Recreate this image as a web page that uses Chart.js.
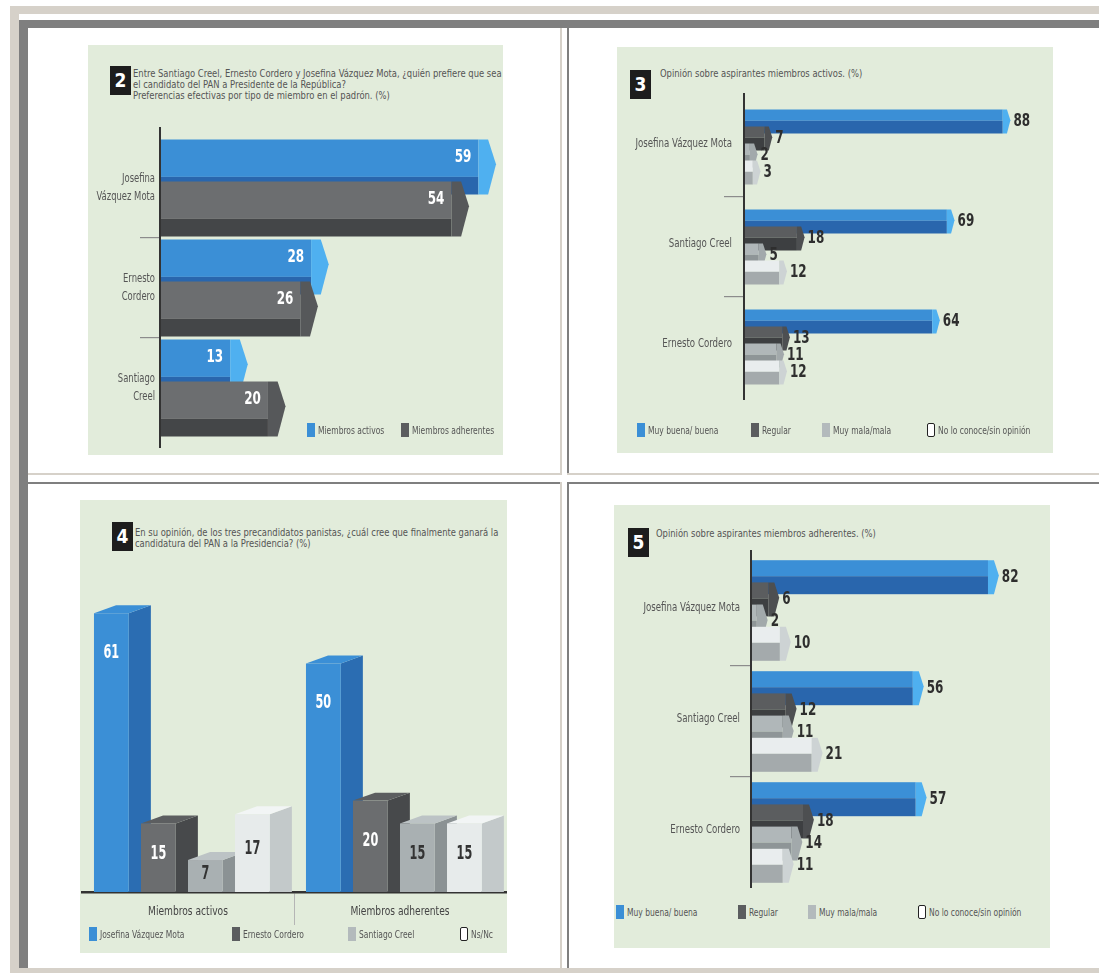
<!DOCTYPE html>
<html>
<head>
<meta charset="utf-8">
<script src="https://cdn.jsdelivr.net/npm/chart.js@4.4.1/dist/chart.umd.min.js"></script>
<style>
  body { margin: 0; width: 1099px; height: 973px; position: relative; overflow: hidden; background: #fff;
         font-family: 'DejaVu Sans Condensed', 'Liberation Sans Narrow', sans-serif; }
  .box { position: absolute; }
  .panel { position: absolute; background: #e2ecdb; }
  .num { position: absolute; width: 21px; height: 29px; line-height: 29px; background: #1d1d1d; color: #fff;
         font-weight: bold; font-size: 19px; text-align: center; }
  .title { position: absolute; font-size: 10.5px; line-height: 11px; color: #555; white-space: nowrap;
           transform: scaleX(0.89); transform-origin: 0 0; }
  .leg { position: absolute; font-size: 10.5px; color: #555; white-space: nowrap; display: flex; align-items: center; height: 14px; }
  .leg span.t { display: inline-block; transform: scaleX(0.8); transform-origin: 0 50%; }
  .sq { display: inline-block; width: 8px; height: 14px; margin-right: 3px; box-sizing: border-box; }
  canvas { position: absolute; }
</style>
</head>
<body>
<!-- page frame -->
<div class="box" style="left:10px;top:6px;width:1089px;height:967px;background:#d6d1c9"></div>
<div class="box" style="left:19px;top:14px;width:1080px;height:954px;background:#fff"></div>
<div class="box" style="left:19px;top:20px;width:1080px;height:8px;background:#7f7f7f"></div>
<div class="box" style="left:19px;top:20px;width:9px;height:948px;background:#7f7f7f"></div>
<div class="box" style="left:560px;top:28px;width:2px;height:447px;background:#d6d1c9"></div>
<div class="box" style="left:28px;top:473px;width:534px;height:2px;background:#d6d1c9"></div>
<div class="box" style="left:567px;top:28px;width:2px;height:447px;background:#7f7f7f"></div>
<div class="box" style="left:567px;top:473px;width:532px;height:2px;background:#d6d1c9"></div>
<div class="box" style="left:28px;top:482px;width:534px;height:2px;background:#7f7f7f"></div>
<div class="box" style="left:560px;top:482px;width:2px;height:486px;background:#d6d1c9"></div>
<div class="box" style="left:567px;top:482px;width:532px;height:2px;background:#7f7f7f"></div>
<div class="box" style="left:567px;top:482px;width:2px;height:486px;background:#7f7f7f"></div>

<!-- panels -->
<div class="panel" style="left:88px;top:45px;width:415px;height:410px"></div>
<div class="panel" style="left:617px;top:47px;width:436px;height:406px"></div>
<div class="panel" style="left:80px;top:500px;width:427px;height:453px"></div>
<div class="panel" style="left:614px;top:505px;width:436px;height:443px"></div>

<div class="num" style="left:110px;top:66px">2</div>
<div class="title" style="left:133px;top:68px">Entre Santiago Creel, Ernesto Cordero y Josefina Vázquez Mota, ¿quién prefiere que sea<br>el candidato del PAN a Presidente de la República?<br>Preferencias efectivas por tipo de miembro en el padrón. (%)</div>

<div class="num" style="left:630px;top:70px">3</div>
<div class="title" style="left:660px;top:68px">Opinión sobre aspirantes miembros activos. (%)</div>

<div class="num" style="left:112px;top:522px">4</div>
<div class="title" style="left:135px;top:527px">En su opinión, de los tres precandidatos panistas, ¿cuál cree que finalmente ganará la<br>candidatura del PAN a la Presidencia? (%)</div>

<div class="num" style="left:628px;top:528px">5</div>
<div class="title" style="left:656px;top:528px">Opinión sobre aspirantes miembros adherentes. (%)</div>

<canvas id="c2" width="415" height="330" style="left:88px;top:125px"></canvas>
<canvas id="c3" width="436" height="330" style="left:617px;top:90px"></canvas>
<canvas id="c4" width="427" height="360" style="left:80px;top:570px"></canvas>
<canvas id="c5" width="436" height="352" style="left:614px;top:548px"></canvas>

<script>
// chart 2: preferencia por tipo de miembro
const p2Cats = [['Josefina', 'Vázquez Mota'], ['Ernesto', 'Cordero'], ['Santiago', 'Creel']];
const p2Series = ['Miembros activos', 'Miembros adherentes'];
const p2Activos = [59, 28, 13];
const p2Adherentes = [54, 26, 20];

// charts 3 and 5: opinion sobre aspirantes
const opCats = ['Josefina Vázquez Mota', 'Santiago Creel', 'Ernesto Cordero'];
const opSeries = ['Muy buena/ buena', 'Regular', 'Muy mala/mala', 'No lo conoce/sin opinión'];
const p3Buena = [88, 69, 64];
const p3Regular = [7, 18, 13];
const p3Mala = [2, 5, 11];
const p3NoConoce = [3, 12, 12];
const p5Buena = [82, 56, 57];
const p5Regular = [6, 12, 18];
const p5Mala = [2, 11, 14];
const p5NoConoce = [10, 21, 11];

// chart 4: quien ganara la candidatura
const p4Cats = ['Miembros activos', 'Miembros adherentes'];
const p4Series = ['Josefina Vázquez Mota', 'Ernesto Cordero', 'Santiago Creel', 'Ns/Nc'];
const p4Josefina = [61, 50];
const p4Ernesto = [15, 20];
const p4Santiago = [7, 15];
const p4NsNc = [17, 15];

const FONT = "'DejaVu Sans Condensed', 'Liberation Sans Narrow', sans-serif";
Chart.defaults.font.family = FONT;
Chart.defaults.animation = false;

// colour sets for the fake 3d faces
const blue = { top: '#3b8fd6', bottom: '#2966ad', cap: '#4fb0f0', front: '#3b8fd6', side: '#2b6db2', text: '#fff' };
const grayDark = { top: '#5b5d5f', bottom: '#3d3f41', cap: '#4d4f51' };
const grayP2 = { top: '#6c6e70', bottom: '#444648', cap: '#56585a' };
const grayLight = { top: '#b0b7b9', bottom: '#8e9597', cap: '#a2a9ab' };
const whiteish = { top: '#e9edee', bottom: '#a4aaac', cap: '#cdd3d4' };
const p4Faces = [
  blue,
  { front: '#6b6d6f', side: '#47494b', top: '#5c5e60', text: '#fff' },
  { front: '#a9b0b2', side: '#8b9294', top: '#bcc3c5', text: '#333' },
  { front: '#e7ebeb', side: '#c3c9ca', top: '#f2f5f5', text: '#333' }
];
const legendColours = ['#3b8fd6', '#5b5d5f', '#b3babc', '#fff'];

function poly(ctx, pts, fill) {
  ctx.beginPath();
  ctx.moveTo(pts[0][0], pts[0][1]);
  for (let k = 1; k < pts.length; k++) ctx.lineTo(pts[k][0], pts[k][1]);
  ctx.closePath();
  ctx.fillStyle = fill;
  ctx.fill();
}

// narrow text: the original uses a condensed face
function narrowText(ctx, txt, x, y, align, sx) {
  ctx.save();
  ctx.translate(x, y);
  ctx.scale(sx, 1);
  ctx.textAlign = align;
  ctx.fillText(txt, 0, 0);
  ctx.restore();
}

// horizontal bars drawn as extruded slabs, using the bar elements' geometry
const hBars3d = {
  id: 'hBars3d',
  afterDatasetsDraw(chart, args, o) {
    const ctx = chart.ctx;
    const labels = [];
    ctx.save();
    chart.data.datasets.forEach((ds, i) => {
      chart.getDatasetMeta(i).data.forEach((bar, j) => {
        const h = o.depth, top = bar.y - h / 2, x0 = bar.base, x1 = bar.x;
        const cw = h * 0.32, sp = h * o.split, c = ds.faces;
        ctx.fillStyle = c.top;
        ctx.fillRect(x0, top, x1 - x0, sp);
        ctx.fillStyle = c.bottom;
        ctx.fillRect(x0, top + sp, x1 - x0, h - sp);
        poly(ctx, [[x1, top], [x1 + cw * 0.55, top], [x1 + cw, top + h * 0.45], [x1 + cw * 0.55, top + h], [x1, top + h]], c.cap);
        if (o.inside) labels.push([ds.data[j], x1 - 7, top + h * 0.32, '#fff', 'right']);
        else labels.push([ds.data[j], x1 + cw + 3, top + h * 0.5, '#2e2e2e', 'left']);
      });
    });
    ctx.font = 'bold 18px ' + FONT;
    ctx.textBaseline = 'middle';
    labels.forEach(l => {
      ctx.fillStyle = l[3];
      narrowText(ctx, l[0], l[1], l[2], l[4], 0.74);
    });

    // category names
    const ys = chart.scales.y, a = chart.chartArea;
    ctx.font = o.catSize + 'px ' + FONT;
    ctx.fillStyle = '#555';
    chart.data.labels.forEach((lab, i) => {
      const lines = Array.isArray(lab) ? lab : [lab];
      const cy = ys.getPixelForValue(i) + o.catShift;
      lines.forEach((t, k) => {
        narrowText(ctx, t, a.left - o.catGap, cy + (k - (lines.length - 1) / 2) * o.catLine, 'right', o.catScale);
      });
    });

    ctx.strokeStyle = '#333';
    ctx.lineWidth = 2;
    ctx.beginPath();
    ctx.moveTo(a.left, a.top - o.up);
    ctx.lineTo(a.left, a.bottom + o.down);
    ctx.stroke();
    ctx.restore();
  }
};

// vertical bars drawn as boxes (front, side, top)
const vBars3d = {
  id: 'vBars3d',
  afterDatasetsDraw(chart) {
    const ctx = chart.ctx;
    const labels = [];
    ctx.save();
    chart.data.datasets.forEach((ds, i) => {
      chart.getDatasetMeta(i).data.forEach((bar, j) => {
        const w = bar.width, fx = bar.x - w / 2, fw = w * 0.74, sw = w * 0.47, d = sw * 0.36;
        const top = bar.y, base = bar.base, c = ds.faces;
        poly(ctx, [[fx + fw, top], [fx + fw + sw, top - d], [fx + fw + sw, base], [fx + fw, base]], c.side);
        poly(ctx, [[fx, top], [fx + sw, top - d], [fx + fw + sw, top - d], [fx + fw, top]], c.top);
        ctx.fillStyle = c.front;
        ctx.fillRect(fx, top, fw, base - top);
        labels.push([ds.data[j], fx + fw / 2, top + Math.min(40, (base - top) * 0.45), c.text]);
      });
    });
    ctx.font = 'bold 19px ' + FONT;
    ctx.textBaseline = 'middle';
    labels.forEach(l => {
      ctx.fillStyle = l[3];
      narrowText(ctx, l[0], l[1], l[2], 'center', 0.66);
    });

    const xs = chart.scales.x, a = chart.chartArea;
    ctx.font = '13px ' + FONT;
    ctx.fillStyle = '#444';
    chart.data.labels.forEach((lab, i) => {
      narrowText(ctx, lab, xs.getPixelForValue(i), a.bottom + 20, 'center', 0.78);
    });
    ctx.restore();
  }
};

const innerOnly = c => (c.index > 0 ? '#8c8c8c' : 'rgba(0,0,0,0)');
const transparent = 'rgba(0,0,0,0)';

function hOptions(axisWidth, pad, max, tickLen, bars) {
  return {
    responsive: false,
    indexAxis: 'y',
    layout: { padding: pad },
    events: [],
    plugins: { legend: { display: false }, tooltip: { enabled: false }, hBars3d: bars },
    scales: {
      x: { display: false, min: 0, max: max },
      y: {
        grid: { offset: true, drawOnChartArea: false, tickLength: tickLen, color: innerOnly, lineWidth: 1.2 },
        border: { display: false },
        ticks: { display: false },
        afterFit(s) { s.width = axisWidth; }
      }
    }
  };
}

new Chart(document.getElementById('c2'), {
  type: 'bar',
  data: {
    labels: p2Cats,
    datasets: [
      { label: p2Series[0], data: p2Activos, faces: blue, backgroundColor: transparent, categoryPercentage: 0.84, barPercentage: 1 },
      { label: p2Series[1], data: p2Adherentes, faces: grayP2, backgroundColor: transparent, categoryPercentage: 0.84, barPercentage: 1 }
    ]
  },
  options: hOptions(72, { top: 13, bottom: 17, right: 3 }, 63, 20,
    { depth: 55, split: 0.68, inside: true, up: 11, down: 10,
      catSize: 12, catScale: 0.78, catGap: 5, catLine: 18, catShift: 0 }),
  plugins: [hBars3d]
});

function opChart(id, series, axisWidth, pad, depth, catPct, tickLen, catGap, up, down) {
  const faces = [blue, grayDark, grayLight, whiteish];
  return new Chart(document.getElementById(id), {
    type: 'bar',
    data: {
      labels: opCats,
      datasets: series.map((d, i) => ({
        label: opSeries[i], data: d, faces: faces[i], backgroundColor: transparent,
        categoryPercentage: catPct, barPercentage: 1
      }))
    },
    options: hOptions(axisWidth, pad, 100, tickLen,
      { depth: depth, split: 0.47, inside: false, up: up, down: down,
        catSize: 12, catScale: 0.8, catGap: catGap, catLine: 14, catShift: -3 }),
    plugins: [hBars3d]
  });
}

opChart('c3', [p3Buena, p3Regular, p3Mala, p3NoConoce], 127, { top: 7, bottom: 23, right: 15 }, 24, 0.68, 20, 12, 4, 3);
opChart('c5', [p5Buena, p5Regular, p5Mala, p5NoConoce], 137, { top: 7, bottom: 12, right: 10 }, 34, 0.8, 21, 11, 5, 0);

new Chart(document.getElementById('c4'), {
  type: 'bar',
  data: {
    labels: p4Cats,
    datasets: [p4Josefina, p4Ernesto, p4Santiago, p4NsNc].map((d, i) => ({
      label: p4Series[i], data: d, faces: p4Faces[i], backgroundColor: transparent,
      categoryPercentage: 0.887, barPercentage: 1
    }))
  },
  options: {
    responsive: false,
    events: [],
    layout: { padding: { top: 25, left: 2, right: 1 } },
    plugins: { legend: { display: false }, tooltip: { enabled: false } },
    scales: {
      y: { display: false, min: 0, max: 65 },
      x: {
        grid: { offset: true, drawOnChartArea: false, tickLength: 33, color: c => (c.index > 0 ? '#b5b5b5' : transparent), lineWidth: 1 },
        border: { display: true, color: '#333', width: 2.5 },
        ticks: { display: false },
        afterFit(s) { s.height = 38; }
      }
    }
  },
  plugins: [vBars3d]
});

// html legends
function legend(names, colours, lefts, top) {
  names.forEach((n, i) => {
    const el = document.createElement('div');
    el.className = 'leg';
    el.style.left = lefts[i] + 'px';
    el.style.top = top + 'px';
    const sq = document.createElement('span');
    sq.className = 'sq';
    sq.style.background = colours[i];
    if (colours[i] === '#fff') { sq.style.border = '1.5px solid #222'; sq.style.borderRadius = '2px'; }
    const t = document.createElement('span');
    t.className = 't';
    t.textContent = n;
    el.appendChild(sq);
    el.appendChild(t);
    document.body.appendChild(el);
  });
}
legend(p2Series, ['#3b8fd6', '#5b5d5f'], [307, 401], 423);
legend(opSeries, legendColours, [637, 751, 822, 927], 423);
legend(p4Series, legendColours, [89, 232, 348, 460], 927);
legend(opSeries, legendColours, [616, 738, 808, 918], 905);
</script>
</body>
</html>
